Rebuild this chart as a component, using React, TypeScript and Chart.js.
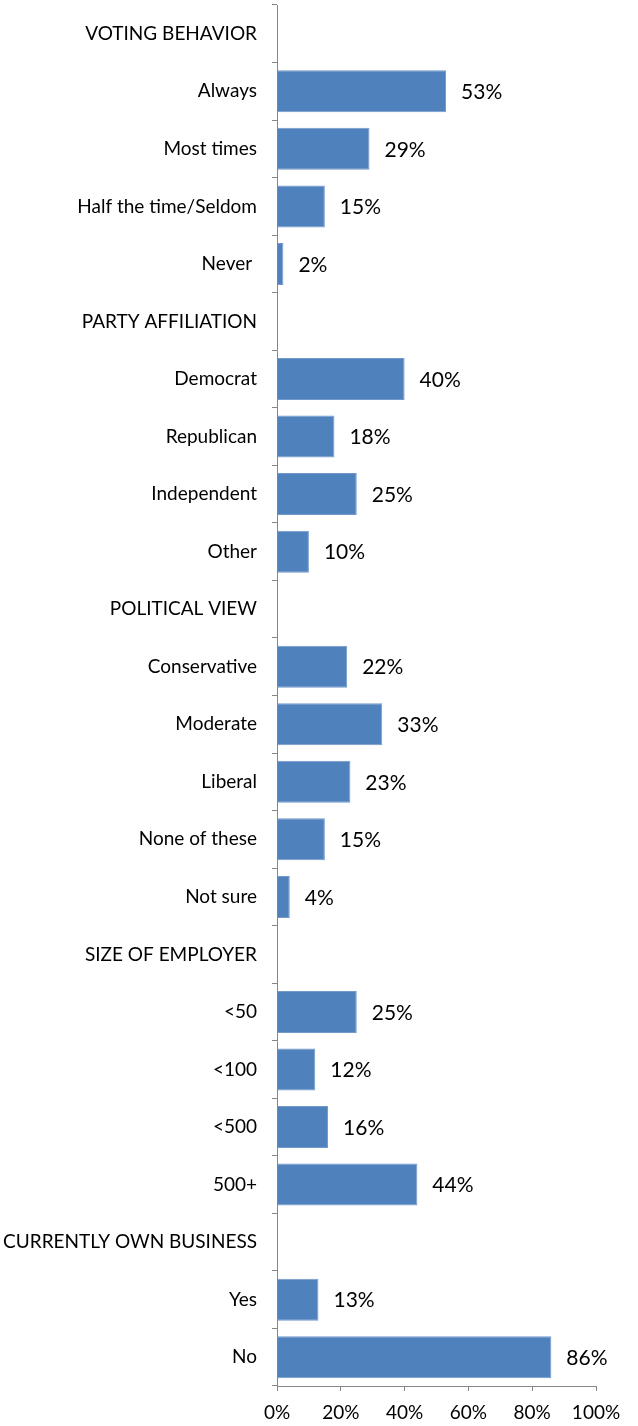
import React, { useEffect, useRef } from "react";
import { Chart, registerables } from "chart.js";
Chart.register(...registerables);

const categories = [
  "VOTING BEHAVIOR",
  "Always",
  "Most times",
  "Half the time/Seldom",
  "Never ",
  "PARTY AFFILIATION",
  "Democrat",
  "Republican",
  "Independent",
  "Other",
  "POLITICAL VIEW",
  "Conservative",
  "Moderate",
  "Liberal",
  "None of these",
  "Not sure",
  "SIZE OF EMPLOYER",
  "<50",
  "<100",
  "<500",
  "500+",
  "CURRENTLY OWN BUSINESS",
  "Yes",
  "No",
];

const values: (number | null)[] = [
  null, 53, 29, 15, 2,
  null, 40, 18, 25, 10,
  null, 22, 33, 23, 15, 4,
  null, 25, 12, 16, 44,
  null, 13, 86,
];

const xMin = 0;
const xMax = 100;
const xStep = 20;

const FONT = "Lato, 'Open Sans', sans-serif";

export default function App() {
  const ref = useRef<HTMLCanvasElement | null>(null);
  useEffect(() => {
    if (!ref.current) return;
    const labelPlugin = {
      id: "barLabels",
      afterDatasetsDraw(chart: any) {
        const ctx = chart.ctx;
        const meta = chart.getDatasetMeta(0);
        ctx.save();
        ctx.font = `21px ${FONT}`;
        ctx.fillStyle = "#000";
        ctx.textAlign = "left";
        ctx.textBaseline = "middle";
        meta.data.forEach((bar: any, i: number) => {
          const v = values[i];
          if (v === null || v === undefined) return;
          ctx.fillText(`${v}%`, bar.x + 15, bar.y + 1);
        });
        ctx.restore();
      },
    };
    const chart = new Chart(ref.current, {
      type: "bar",
      data: {
        labels: categories,
        datasets: [
          {
            data: values as any,
            backgroundColor: "#4F81BD",
            borderColor: "#7399CB",
            borderWidth: 1,
            barPercentage: 0.73,
            categoryPercentage: 1,
          },
        ],
      },
      options: {
        indexAxis: "y",
        animation: false,
        responsive: false,
        layout: { padding: { top: 5, right: 42, left: 0, bottom: 0 } },
        plugins: { legend: { display: false }, tooltip: { enabled: false } },
        scales: {
          y: {
            type: "category",
            grid: {
              display: true,
              drawOnChartArea: false,
              offset: true,
              tickLength: 5,
              color: "#868686",
            },
            border: { color: "#868686", width: 1 },
            ticks: {
              padding: 15,
              color: "#000",
              font: { family: FONT, size: 19 },
              autoSkip: false,
            },
            afterFit: (s: any) => {
              s.width = 277;
              s.paddingTop = 0;
              s.paddingBottom = 0;
            },
          },
          x: {
            min: xMin,
            max: xMax,
            grid: {
              display: true,
              drawOnChartArea: false,
              tickLength: 5,
              color: "#868686",
            },
            border: { color: "#868686", width: 1 },
            ticks: {
              stepSize: xStep,
              padding: 10,
              color: "#000",
              font: { family: FONT, size: 19 },
              callback: (v: any) => `${v}%`,
            },
            afterFit: (s: any) => {
              s.height = 40;
              s.paddingLeft = 0;
              s.paddingRight = 0;
            },
          },
        },
      },
      plugins: [labelPlugin],
    });
    return () => chart.destroy();
  }, []);
  return (
    <div style={{ position: "absolute", left: 0, top: 0, width: 638, height: 1426, background: "#fff" }}>
      <canvas ref={ref} width={638} height={1426} />
    </div>
  );
}
